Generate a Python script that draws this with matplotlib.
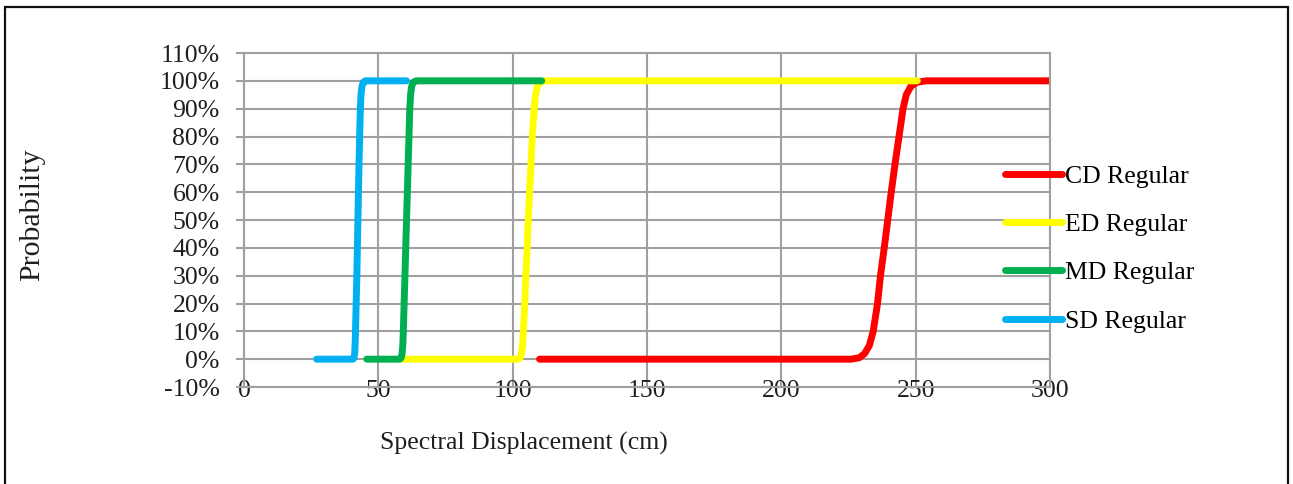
import matplotlib.pyplot as plt
from matplotlib.patches import Rectangle
from matplotlib.ticker import FuncFormatter

# fragility curves, spectral displacement (cm) vs probability of exceedance (%)
cd_x = [110, 226.0, 229.0, 231.0, 232.8, 234.2, 235.8, 236.9, 238.3, 239.6, 240.9,
        242.3, 243.8, 245.3, 246.5, 248.2, 250.5, 254.0, 300]
cd_p = [0, 0, 0.5, 2, 5, 10, 20, 30, 40, 50, 60, 70, 80, 90, 95, 98, 99.5, 100, 100]

ed_x = [59.2, 102.0, 102.8, 103.3, 103.7, 104.0, 104.5, 104.9, 105.4, 105.8, 106.3,
        106.8, 107.3, 108.0, 108.5, 109.2, 110.2, 111.5, 250.6]
ed_p = [0, 0, 0.5, 2, 5, 10, 20, 30, 40, 50, 60, 70, 80, 90, 95, 98, 99.5, 100, 100]

md_x = [45.7, 58.0, 58.5, 58.85, 59.1, 59.3, 59.6, 59.9, 60.2, 60.5, 60.8,
        61.1, 61.4, 61.7, 62.0, 62.4, 63.0, 64.0, 110.8]
md_p = [0, 0, 0.5, 2, 5, 10, 20, 30, 40, 50, 60, 70, 80, 90, 95, 98, 99.5, 100, 100]

sd_x = [27, 40.6, 40.95, 41.2, 41.35, 41.5, 41.75, 42.0, 42.2, 42.4, 42.6,
        42.8, 43.05, 43.3, 43.55, 43.9, 44.4, 45.2, 60.5]
sd_p = [0, 0, 0.5, 2, 5, 10, 20, 30, 40, 50, 60, 70, 80, 90, 95, 98, 99.5, 100, 100]

labels = ["CD Regular", "ED Regular", "MD Regular", "SD Regular"]
colors = ["#FF0000", "#FFFF00", "#00B050", "#00B0F0"]

x_ticks = [0, 50, 100, 150, 200, 250, 300]
y_ticks = list(range(-10, 111, 10))

plt.rcParams['font.family'] = ['Liberation Serif', 'DejaVu Serif']
grid_c = "#a0a0a0"
txt_c = "#1e1e1e"
fs = 18.5

fig = plt.figure(figsize=(12.93, 4.84), dpi=100)
ax = fig.add_axes([0.18871, 0.20041, 0.62336, 0.69008])

series = [(cd_x, cd_p), (ed_x, ed_p), (md_x, md_p), (sd_x, sd_p)]
for (xs, ps), lab, col in zip(series, labels, colors):
    ax.plot(xs, ps, color=col, lw=5, label=lab,
            solid_capstyle='round', solid_joinstyle='round')

ax.set_xlim(0, 300)
ax.set_ylim(-10, 110)
ax.set_xticks(x_ticks)
ax.set_yticks(y_ticks)
ax.yaxis.set_major_formatter(FuncFormatter(lambda v, pos: f"{v:.0f}%"))
ax.grid(True, color=grid_c, lw=1.5)
ax.set_axisbelow(True)
for s in ax.spines.values():
    s.set_color(grid_c)
    s.set_linewidth(1.5)

ax.tick_params(axis='y', length=6, width=1.5, color=grid_c, pad=11.5,
               labelsize=fs, labelcolor=txt_c)
ax.tick_params(axis='x', length=0, pad=-5, labelsize=fs, labelcolor=txt_c)

ax.set_xlabel("Spectral Displacement (cm)", fontsize=fs, color=txt_c)
ax.xaxis.set_label_coords(0.347, -0.168)
ax.xaxis.label.set_va('center')
ax.set_ylabel("Probability", fontsize=21.5, color=txt_c)
ax.yaxis.set_label_coords(-0.263, 0.515)
ax.yaxis.label.set_va('center')

fig.legend(loc='upper left', bbox_to_anchor=(0.7773, 0.660), frameon=False,
           fontsize=fs, handlelength=2.2, handletextpad=0.15,
           labelspacing=0.99, borderpad=0, borderaxespad=0)

# page frame
fig.patches.append(Rectangle((0.0035, -0.05), 0.9930, 1.036, transform=fig.transFigure,
                             fill=False, edgecolor="#111111", lw=1.6))

fig.savefig("out.png", dpi=100)
